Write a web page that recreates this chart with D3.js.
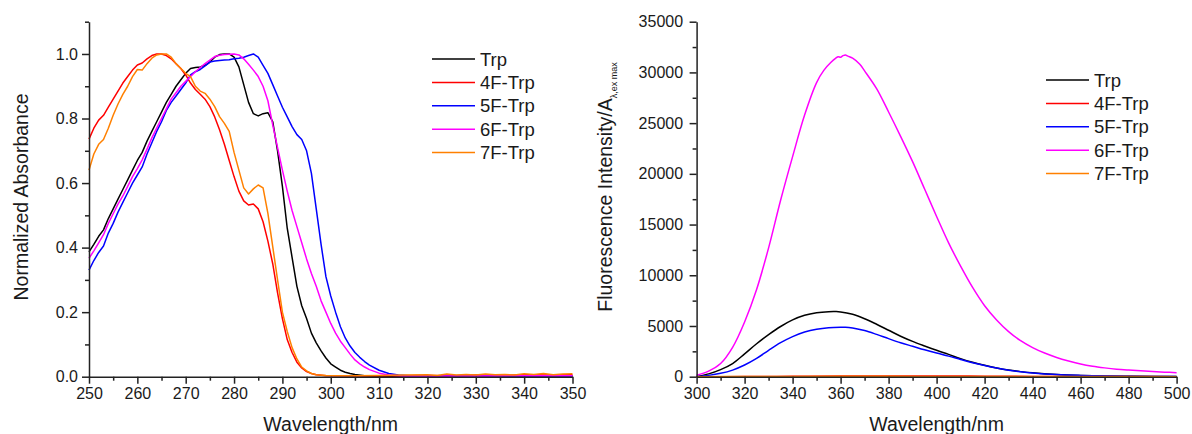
<!DOCTYPE html>
<html><head><meta charset="utf-8">
<script src="https://cdn.jsdelivr.net/npm/d3@7"></script>
<style>
html,body{margin:0;padding:0;background:#fff;}
svg{display:block;font-family:"Liberation Sans",Arial,sans-serif;}
</style>
</head><body>
<svg id="chart" width="1192" height="434"></svg>
<script>
// ---------- data ----------
const seriesNames = ["Trp", "4F-Trp", "5F-Trp", "6F-Trp", "7F-Trp"];
const seriesColors = ["#000000", "#ff0000", "#0000ff", "#ff00ff", "#ff8000"];

const absXTicks = [250, 260, 270, 280, 290, 300, 310, 320, 330, 340, 350];
const absYTicks = [0.0, 0.2, 0.4, 0.6, 0.8, 1.0];
const absXLabel = "Wavelength/nm";
const absYLabel = "Normalized Absorbance";

// [wavelength nm, normalized absorbance]
const absTrp = [[250,0.387],[251,0.41],[252,0.435],[253,0.455],[254,0.49],[255,0.52],[256,0.55],[257,0.58],[258,0.61],[259,0.64],[260,0.67],[261,0.695],[262,0.73],[263,0.76],[264,0.79],[265,0.82],[266,0.85],[267,0.875],[268,0.9],[269,0.92],[270,0.94],[271,0.955],[272,0.958],[273,0.96],[274,0.965],[275,0.975],[276,0.99],[277,0.998],[278,1.0],[279,1.0],[280,0.99],[281,0.96],[282,0.905],[283,0.85],[284,0.815],[285,0.808],[286,0.815],[287,0.818],[288,0.79],[289,0.7],[290,0.59],[291,0.46],[292,0.37],[293,0.28],[294,0.22],[295,0.18],[296,0.135],[297,0.105],[298,0.08],[299,0.058],[300,0.04],[301,0.03],[302,0.02],[303,0.014],[304,0.01],[305,0.007],[307,0.003],[310,0.001],[320,0.001],[330,0.002],[340,0.002],[350,0.002]];
const abs4F = [[250,0.736],[251,0.77],[252,0.795],[253,0.81],[254,0.835],[255,0.86],[256,0.885],[257,0.91],[258,0.93],[259,0.95],[260,0.966],[261,0.972],[262,0.985],[263,0.995],[264,1.0],[265,1.0],[266,0.995],[267,0.985],[268,0.97],[269,0.955],[270,0.935],[271,0.91],[272,0.89],[273,0.875],[274,0.86],[275,0.837],[276,0.805],[277,0.765],[278,0.72],[279,0.67],[280,0.62],[281,0.575],[282,0.545],[283,0.532],[284,0.535],[285,0.52],[286,0.48],[287,0.42],[288,0.35],[289,0.26],[290,0.18],[291,0.115],[292,0.075],[293,0.045],[294,0.027],[295,0.016],[296,0.01],[297,0.006],[299,0.003],[305,0.002],[315,0.003],[320,0.004],[325,0.003],[330,0.005],[335,0.004],[340,0.006],[345,0.005],[350,0.006]];
const abs5F = [[250,0.33],[251,0.36],[252,0.385],[253,0.405],[254,0.445],[255,0.475],[256,0.51],[257,0.54],[258,0.57],[259,0.6],[260,0.625],[261,0.65],[262,0.69],[263,0.725],[264,0.76],[265,0.79],[266,0.825],[267,0.85],[268,0.87],[269,0.89],[270,0.91],[271,0.935],[272,0.945],[273,0.952],[274,0.963],[275,0.975],[276,0.978],[277,0.98],[278,0.981],[279,0.982],[280,0.985],[281,0.987],[282,0.99],[283,0.995],[284,1.0],[285,0.99],[286,0.965],[287,0.94],[288,0.905],[289,0.87],[290,0.835],[291,0.805],[292,0.775],[293,0.75],[294,0.735],[295,0.7],[296,0.63],[297,0.52],[298,0.41],[299,0.31],[300,0.25],[301,0.2],[302,0.155],[303,0.12],[304,0.095],[305,0.075],[306,0.06],[307,0.047],[308,0.036],[310,0.02],[312,0.01],[314,0.005],[317,0.002],[330,0.002],[340,0.002],[350,0.002]];
const abs6F = [[250,0.367],[251,0.39],[252,0.415],[253,0.44],[254,0.475],[255,0.505],[256,0.535],[257,0.56],[258,0.59],[259,0.62],[260,0.645],[261,0.672],[262,0.705],[263,0.74],[264,0.77],[265,0.8],[266,0.83],[267,0.86],[268,0.88],[269,0.9],[270,0.915],[271,0.93],[272,0.945],[273,0.958],[274,0.97],[275,0.981],[276,0.992],[277,0.996],[278,0.998],[279,0.999],[280,1.0],[281,0.997],[282,0.985],[283,0.968],[284,0.95],[285,0.93],[286,0.9],[287,0.855],[288,0.78],[289,0.71],[290,0.64],[291,0.575],[292,0.515],[293,0.465],[294,0.415],[295,0.365],[296,0.32],[297,0.28],[298,0.235],[299,0.2],[300,0.165],[301,0.135],[302,0.11],[303,0.09],[304,0.07],[305,0.052],[306,0.04],[307,0.03],[308,0.022],[310,0.011],[312,0.005],[315,0.002],[330,0.002],[340,0.003],[350,0.003]];
const abs7F = [[250,0.64],[251,0.69],[252,0.72],[253,0.735],[254,0.77],[255,0.81],[256,0.845],[257,0.875],[258,0.9],[259,0.93],[260,0.952],[261,0.95],[262,0.97],[263,0.987],[264,0.997],[265,1.0],[266,1.0],[267,0.99],[268,0.97],[269,0.955],[270,0.94],[271,0.93],[272,0.9],[273,0.885],[274,0.878],[275,0.86],[276,0.837],[277,0.806],[278,0.785],[279,0.76],[280,0.695],[281,0.64],[282,0.585],[283,0.566],[284,0.582],[285,0.594],[286,0.585],[287,0.506],[288,0.403],[289,0.3],[290,0.2],[291,0.14],[292,0.09],[293,0.055],[294,0.03],[295,0.018],[296,0.01],[297,0.006],[299,0.004],[305,0.003],[310,0.004],[315,0.005],[320,0.006],[322,0.004],[324,0.008],[326,0.005],[328,0.007],[330,0.005],[332,0.008],[334,0.006],[336,0.007],[338,0.005],[340,0.009],[342,0.007],[344,0.01],[346,0.006],[348,0.008],[350,0.009]];
const absSeries = [absTrp, abs4F, abs5F, abs6F, abs7F];

const flXTicks = [300, 320, 340, 360, 380, 400, 420, 440, 460, 480, 500];
const flYTicks = [0, 5000, 10000, 15000, 20000, 25000, 30000, 35000];
const flXLabel = "Wavelength/nm";
const flYLabelMain = "Fluorescence Intensity/A";
const flYLabelSub = "\u03bb,ex max";

// [wavelength nm, intensity]
const flTrp = [[300,20],[305,280],[310,700],[315,1300],[320,2250],[325,3250],[330,4150],[335,4950],[340,5600],[345,6050],[350,6300],[355,6410],[358,6420],[360,6390],[365,6150],[370,5720],[375,5170],[380,4580],[385,3990],[390,3480],[395,3030],[400,2600],[405,2200],[410,1780],[415,1420],[420,1120],[425,860],[430,650],[435,500],[440,380],[450,220],[460,130],[470,75],[480,45],[490,25],[500,15]];
const fl4F = [[300,0],[320,10],[340,40],[360,70],[380,80],[400,70],[420,50],[440,30],[460,20],[480,10],[500,5]];
const fl5F = [[300,10],[305,130],[310,330],[315,650],[320,1150],[325,1800],[330,2600],[335,3350],[340,3950],[345,4400],[350,4680],[355,4830],[360,4880],[362,4880],[365,4800],[370,4550],[375,4170],[380,3750],[385,3350],[390,3000],[395,2650],[400,2330],[405,2030],[410,1700],[415,1380],[420,1100],[425,850],[430,640],[435,490],[440,370],[450,210],[460,125],[470,72],[480,42],[490,24],[500,14]];
const fl6F = [[300,150],[305,550],[310,1300],[315,2900],[320,5400],[325,8600],[330,12700],[335,17400],[340,21700],[345,25800],[350,29000],[353,30200],[356,31000],[358,31400],[359,31550],[360,31500],[361,31650],[362,31720],[363,31600],[365,31400],[368,30800],[370,30150],[375,28400],[380,26100],[385,23700],[390,21200],[395,18500],[400,15800],[405,13200],[410,10900],[415,8800],[420,7000],[425,5600],[430,4450],[435,3550],[440,2870],[445,2330],[450,1900],[455,1550],[460,1250],[465,1030],[470,870],[475,740],[480,650],[485,575],[490,510],[495,450],[500,395]];
const fl7F = [[300,0],[320,15],[340,30],[360,35],[380,35],[400,30],[420,25],[440,15],[460,10],[500,5]];
const flSeries = [flTrp, fl4F, fl5F, fl6F, fl7F];

// ---------- drawing ----------
const svg = d3.select("#chart");
svg.append("rect").attr("width",1192).attr("height",434).attr("fill","#fff");
const AX = "#222";

const xL = d3.scaleLinear().domain([250,350]).range([89,572.5]);
const yL = d3.scaleLinear().domain([0,1.1]).range([376.7,21.7]);
const xR = d3.scaleLinear().domain([300,500]).range([696.6,1176.6]);
const yR = d3.scaleLinear().domain([0,35000]).range([376.7,21.7]);

function styleAxis(g){
  g.selectAll("path.domain").attr("stroke",AX).attr("stroke-width",1.5);
  g.selectAll(".tick line").attr("stroke",AX).attr("stroke-width",1.5);
  g.selectAll(".tick text").attr("fill","#1a1a1a").attr("font-size","16px")
    .attr("font-family",'"Liberation Sans",Arial,sans-serif');
}

function drawPanel(x, y, xTicks, xMinor, yTicks, yMinor, yFmt, yPad, series, lineCurve){
  const y0 = y.range()[0], x0 = x.range()[0];
  svg.append("g").attr("transform",`translate(0,${y0})`)
    .call(d3.axisBottom(x).tickValues(xMinor).tickSize(4).tickFormat(""))
    .call(g=>{g.select(".domain").remove(); styleAxis(g);});
  svg.append("g").attr("transform",`translate(${x0},0)`)
    .call(d3.axisLeft(y).tickValues(yMinor).tickSize(4).tickFormat(""))
    .call(g=>{g.select(".domain").remove(); styleAxis(g);});
  const line = d3.line().x(d=>x(d[0])).y(d=>y(d[1])).curve(lineCurve);
  series.forEach((s,i)=>{
    svg.append("path").datum(s).attr("d",line).attr("fill","none")
      .attr("stroke",seriesColors[i]).attr("stroke-width",1.5).attr("stroke-linejoin","round");
  });
  svg.append("g").attr("transform",`translate(0,${y0})`)
    .call(d3.axisBottom(x).tickValues(xTicks).tickSize(7).tickSizeOuter(0).tickPadding(4).tickFormat(d3.format("d")))
    .call(styleAxis);
  svg.append("g").attr("transform",`translate(${x0},0)`)
    .call(d3.axisLeft(y).tickValues(yTicks).tickSize(7).tickSizeOuter(0).tickPadding(yPad).tickFormat(yFmt))
    .call(styleAxis);
}

drawPanel(xL, yL, absXTicks, d3.range(255,350,10), absYTicks, d3.range(0.1,1.15,0.2), d3.format(".1f"), 4, absSeries, d3.curveLinear);
drawPanel(xR, yR, flXTicks, d3.range(310,500,20), flYTicks, d3.range(2500,35000,5000), d3.format("d"), 6.5, flSeries, d3.curveCatmullRom.alpha(0.5));

const titleFont = "19.5px";
svg.append("text").attr("x",(xL.range()[0]+xL.range()[1])/2).attr("y",431)
  .attr("text-anchor","middle").attr("font-size",titleFont).attr("fill","#1a1a1a").text(absXLabel);
svg.append("text").attr("transform","translate(28,197) rotate(-90)")
  .attr("text-anchor","middle").attr("font-size",titleFont).attr("fill","#1a1a1a").text(absYLabel);
svg.append("text").attr("x",(xR.range()[0]+xR.range()[1])/2).attr("y",431)
  .attr("text-anchor","middle").attr("font-size",titleFont).attr("fill","#1a1a1a").text(flXLabel);
const fyt = svg.append("text").attr("transform","translate(611.5,187) rotate(-90)")
  .attr("text-anchor","middle").attr("font-size",titleFont).attr("fill","#1a1a1a");
fyt.append("tspan").text(flYLabelMain);
fyt.append("tspan").attr("font-size","9px").attr("dy",5).text(flYLabelSub);

function legend(lx, ly, step){
  seriesNames.forEach((n,i)=>{
    const yy = ly + i*step;
    svg.append("line").attr("x1",lx).attr("x2",lx+43).attr("y1",yy).attr("y2",yy)
      .attr("stroke",seriesColors[i]).attr("stroke-width",1.5);
    svg.append("text").attr("x",lx+48).attr("y",yy+6.5).attr("font-size","18.5px")
      .attr("fill","#1a1a1a").text(n);
  });
}
legend(432, 59, 23.4);
legend(1046, 80, 23.4);
</script>
</body></html>
